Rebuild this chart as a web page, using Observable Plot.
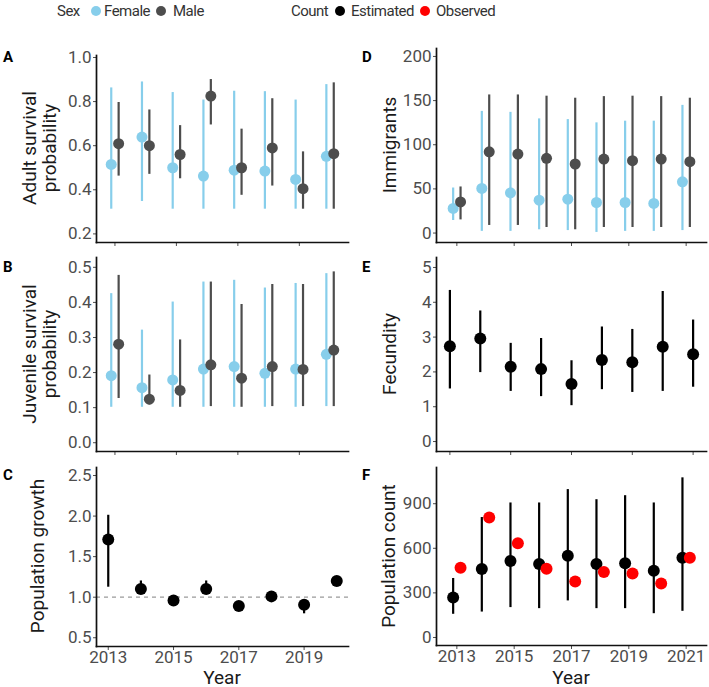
<!DOCTYPE html>
<html><head><meta charset="utf-8">
<script src="https://cdn.jsdelivr.net/npm/d3@7"></script>
<script src="https://cdn.jsdelivr.net/npm/@observablehq/plot@0.6"></script>
<style>
body{margin:0;background:#fff;font-family:Roboto,"Noto Sans",sans-serif;}
#root{position:relative;width:709px;height:687px;overflow:hidden;background:#fff;}
#root svg{position:absolute;}
.ytitle{position:absolute;transform:translate(-50%,-50%) rotate(-90deg);white-space:pre;text-align:center;font-size:19px;line-height:20px;color:#1a1a1a;}
.xtitle{position:absolute;transform:translate(-50%,-50%);font-size:19px;line-height:19px;color:#1a1a1a;white-space:nowrap;}
.letter{position:absolute;font-weight:bold;font-size:15px;line-height:15px;color:#000;transform:translateY(-50%);}
.leg{position:absolute;font-size:15px;line-height:18px;letter-spacing:-0.5px;color:#333;white-space:nowrap;}
.dot{position:absolute;width:10px;height:10px;border-radius:50%;}
</style>
</head><body>
<div id="root"></div>
<script>
// ---------------- data ----------------
const years = [2013, 2014, 2015, 2016, 2017, 2018, 2019, 2020];
const yearsFull = [2013, 2014, 2015, 2016, 2017, 2018, 2019, 2020, 2021];

// A: adult survival probability
const adultFemale   = [0.515, 0.639, 0.500, 0.462, 0.489, 0.485, 0.447, 0.552];
const adultFemaleLo = [0.312, 0.347, 0.312, 0.312, 0.312, 0.312, 0.312, 0.312];
const adultFemaleHi = [0.862, 0.889, 0.841, 0.807, 0.847, 0.845, 0.807, 0.877];
const adultMale     = [0.609, 0.600, 0.560, 0.825, 0.500, 0.590, 0.405, 0.564];
const adultMaleLo   = [0.462, 0.470, 0.450, 0.694, 0.375, 0.417, 0.312, 0.312];
const adultMaleHi   = [0.796, 0.762, 0.691, 0.900, 0.675, 0.813, 0.572, 0.885];

// B: juvenile survival probability
const juvFemale   = [0.191, 0.157, 0.179, 0.210, 0.217, 0.198, 0.210, 0.252];
const juvFemaleLo = [0.101, 0.101, 0.101, 0.101, 0.101, 0.101, 0.101, 0.103];
const juvFemaleHi = [0.425, 0.321, 0.401, 0.458, 0.463, 0.441, 0.454, 0.482];
const juvMale     = [0.281, 0.124, 0.149, 0.222, 0.184, 0.217, 0.209, 0.264];
const juvMaleLo   = [0.126, 0.108, 0.101, 0.103, 0.101, 0.103, 0.103, 0.103];
const juvMaleHi   = [0.477, 0.193, 0.293, 0.458, 0.394, 0.451, 0.451, 0.487];

// C: population growth
const growth   = [1.711, 1.10, 0.96, 1.10, 0.89, 1.01, 0.906, 1.20];
const growthLo = [1.123, 1.04, 0.92, 1.05, 0.86, 0.97, 0.795, 1.16];
const growthHi = [2.01, 1.20, 1.00, 1.20, 0.93, 1.05, 0.94, 1.24];
const growthRef = [1];

// D: immigrants
const immFemale   = [27.9, 50.5, 45.5, 37.2, 38.3, 34.6, 34.6, 33.5, 58.0];
const immFemaleLo = [14.2, 1.9, 1.9, 3.7, 2.8, 0.7, 1.9, 1.9, 2.8];
const immFemaleHi = [51.0, 137.8, 136.7, 129.3, 128.5, 124.8, 126.7, 126.7, 144.6];
const immMale     = [35.2, 92.0, 89.4, 84.6, 78.2, 83.8, 81.9, 83.8, 80.8];
const immMaleLo   = [14.9, 8.6, 8.6, 6.3, 3.7, 6.3, 6.3, 6.3, 6.3];
const immMaleHi   = [52.2, 156.4, 156.4, 155.0, 152.7, 154.5, 155.0, 154.5, 152.7];

// E: fecundity
const fecundity = [2.74, 2.96, 2.15, 2.08, 1.65, 2.34, 2.28, 2.72, 2.51];
const fecLo     = [1.51, 1.98, 1.44, 1.29, 1.03, 1.49, 1.41, 1.44, 1.56];
const fecHi     = [4.34, 3.75, 2.82, 2.96, 2.32, 3.29, 3.22, 4.31, 3.49];

// F: population count
const popEst   = [269, 460, 514, 494, 550, 494, 499, 449, 537];
const popEstLo = [156, 171, 201, 194, 246, 194, 194, 160, 176];
const popEstHi = [397, 807, 905, 905, 995, 927, 954, 905, 1074];
const popObs   = [469, 807, 634, 462, 377, 440, 431, 363, 537];

// ticks
const xTicksLeft = [2013, 2015, 2017, 2019];
const xTicksRight = [2013, 2015, 2017, 2019, 2021];
const ticksA = [0.2, 0.4, 0.6, 0.8, 1.0];
const ticksB = [0.0, 0.1, 0.2, 0.3, 0.4, 0.5];
const ticksC = [0.5, 1.0, 1.5, 2.0, 2.5];
const ticksD = [0, 50, 100, 150, 200];
const ticksE = [0, 1, 2, 3, 4, 5];
const ticksF = [0, 300, 600, 900];

// ---------------- helpers ----------------
const FEMALE = "#87CEEB", MALE = "#4d4d4d";
const rows = (xs, v, lo, hi) => xs.map((x, i) => ({year: x, v: v[i], lo: lo ? lo[i] : null, hi: hi ? hi[i] : null}));
const root = document.getElementById("root");

function pointrange(data, color, dx, r) {
  return [
    Plot.ruleX(data, {x: "year", y1: "lo", y2: "hi", stroke: color, strokeWidth: 2.2, dx}),
    Plot.dot(data, {x: "year", y: "v", r, fill: color, dx})
  ];
}

function panel(o) {
  const svg = Plot.plot({
    width: o.width, height: o.height,
    marginTop: o.mt, marginBottom: o.mb, marginLeft: o.ml, marginRight: o.mr,
    x: {domain: o.xDomain},
    y: {domain: o.yDomain},
    style: {fontFamily: "Roboto, sans-serif", fontSize: "17px", background: "transparent", overflow: "visible"},
    marks: [
      Plot.axisY({ticks: o.yTicks, tickFormat: o.yFormat, tickSize: 3, tickPadding: 2, color: "#4d4d4d", label: null}),
      Plot.axisX({ticks: o.xTicks, tickFormat: o.xLabels ? d3.format("d") : () => "", tickSize: 4, tickPadding: 0, color: "#4d4d4d", label: null}),
      ...o.marks,
      Plot.frame({anchor: "left", stroke: "#111", strokeWidth: 1.7}),
      Plot.frame({anchor: "bottom", stroke: "#111", strokeWidth: 1.7})
    ]
  });
  svg.style.left = o.left + "px";
  svg.style.top = o.top + "px";
  root.appendChild(svg);
}

const L = {left: 0, width: 354, ml: 96, mr: 6};
const R = {left: 354, width: 355, ml: 82, mr: 3};
const f1 = d3.format(".1f");

// A
panel({...L, top: 40, height: 215, mt: 15, mb: 13,
  xDomain: [2012.4, 2020.6], yDomain: [0.161, 1.009], yTicks: ticksA, yFormat: f1,
  xTicks: xTicksLeft, xLabels: false,
  marks: [
    ...pointrange(rows(years, adultFemale, adultFemaleLo, adultFemaleHi), FEMALE, -3.7, 5.5),
    ...pointrange(rows(years, adultMale, adultMaleLo, adultMaleHi), MALE, 3.7, 5.5)
  ]});
// B
panel({...L, top: 250, height: 215, mt: 7, mb: 14,
  xDomain: [2012.4, 2020.6], yDomain: [-0.025, 0.528], yTicks: ticksB, yFormat: f1,
  xTicks: xTicksLeft, xLabels: false,
  marks: [
    ...pointrange(rows(years, juvFemale, juvFemaleLo, juvFemaleHi), FEMALE, -3.7, 5.5),
    ...pointrange(rows(years, juvMale, juvMaleLo, juvMaleHi), MALE, 3.7, 5.5)
  ]});
// C
panel({...L, top: 460, height: 227, mt: 7, mb: 41,
  xDomain: [2012.64, 2020.36], yDomain: [0.392, 2.599], yTicks: ticksC, yFormat: f1,
  xTicks: xTicksLeft, xLabels: true,
  marks: [
    Plot.ruleY(growthRef, {stroke: "#9a9a9a", strokeWidth: 1.2, strokeDasharray: "4,4"}),
    ...pointrange(rows(years, growth, growthLo, growthHi), "#000", 0, 6)
  ]});
// D
panel({...R, top: 40, height: 215, mt: 8, mb: 13,
  xDomain: [2012.29, 2021.71], yDomain: [-10.7, 209], yTicks: ticksD, yFormat: d3.format("d"),
  xTicks: xTicksRight, xLabels: false,
  marks: [
    ...pointrange(rows(yearsFull, immFemale, immFemaleLo, immFemaleHi), FEMALE, -3.7, 5.5),
    ...pointrange(rows(yearsFull, immMale, immMaleLo, immMaleHi), MALE, 3.7, 5.5)
  ]});
// E
panel({...R, top: 250, height: 215, mt: 7, mb: 14,
  xDomain: [2012.56, 2021.44], yDomain: [-0.286, 5.286], yTicks: ticksE, yFormat: d3.format("d"),
  xTicks: xTicksRight, xLabels: false,
  marks: [
    ...pointrange(rows(yearsFull, fecundity, fecLo, fecHi), "#000", 0, 6)
  ]});
// F
panel({...R, top: 460, height: 227, mt: 7, mb: 42,
  xDomain: [2012.29, 2021.71], yDomain: [-54, 1143.6], yTicks: ticksF, yFormat: d3.format("d"),
  xTicks: xTicksRight, xLabels: true,
  marks: [
    ...pointrange(rows(yearsFull, popEst, popEstLo, popEstHi), "#000", -3.7, 6),
    Plot.dot(rows(yearsFull, popObs), {x: "year", y: "v", r: 6, fill: "#ff0000", dx: 3.7})
  ]});

// ---------------- text (titles, letters, legends) ----------------
function add(cls, text, x, y, extra) {
  const d = document.createElement("div");
  d.className = cls; d.textContent = text;
  d.style.left = x + "px"; d.style.top = y + "px";
  if (extra) Object.assign(d.style, extra);
  root.appendChild(d);
}
add("ytitle", "Adult survival\nprobability", 40, 148);
add("ytitle", "Juvenile survival\nprobability", 40, 354);
add("ytitle", "Population growth", 38, 556);
add("ytitle", "Immigrants", 390, 145);
add("ytitle", "Fecundity", 390, 354);
add("ytitle", "Population count", 389, 556);
add("xtitle", "Year", 222, 677);
add("xtitle", "Year", 571, 677);
add("letter", "A", 3, 57); add("letter", "B", 3, 267); add("letter", "C", 3, 475);
add("letter", "D", 362, 57); add("letter", "E", 362, 267); add("letter", "F", 362, 475);

add("leg", "Sex", 57, 2);
add("dot", "", 91, 6, {background: FEMALE});
add("leg", "Female", 104, 2);
add("dot", "", 156, 6, {background: MALE});
add("leg", "Male", 173, 2);
add("leg", "Count", 291, 2);
add("dot", "", 335, 6, {background: "#000"});
add("leg", "Estimated", 351, 2);
add("dot", "", 420, 6, {background: "#ff0000"});
add("leg", "Observed", 436, 2);
</script>
</body></html>
